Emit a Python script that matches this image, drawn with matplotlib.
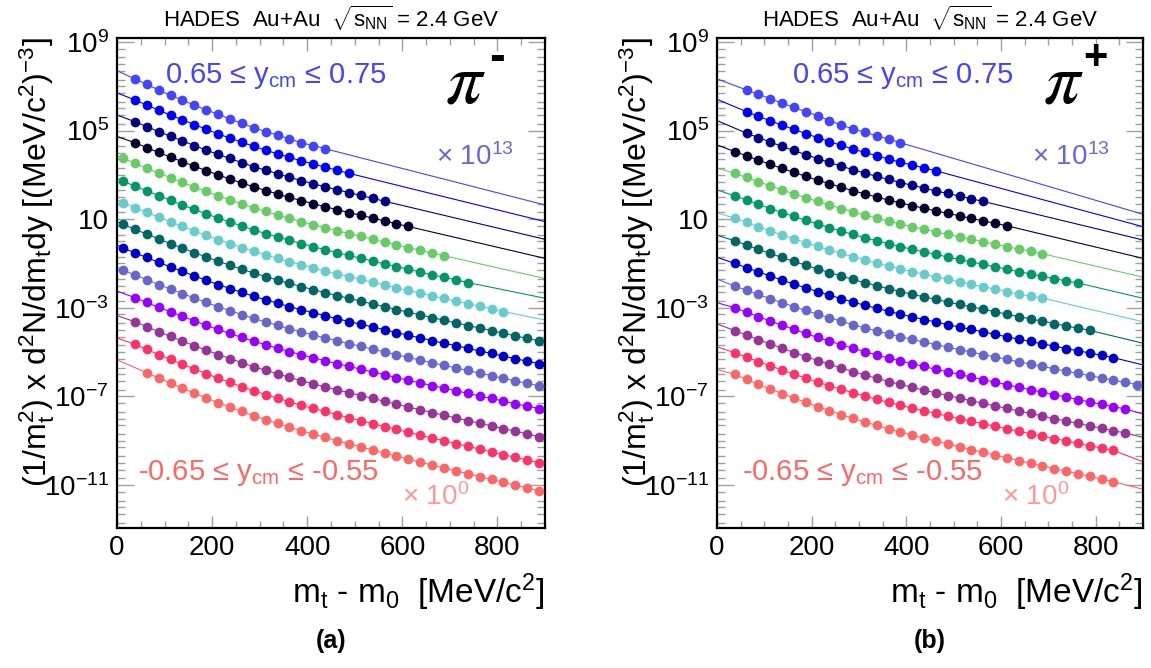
import numpy as np
import matplotlib
matplotlib.use('Agg')
import matplotlib.pyplot as plt
from matplotlib.ticker import FixedLocator, FixedFormatter, NullFormatter

plt.rcParams['font.family'] = ['Liberation Sans', 'DejaVu Sans']
plt.rcParams['mathtext.fontset'] = 'custom'
plt.rcParams['mathtext.rm'] = 'Liberation Sans'
plt.rcParams['mathtext.it'] = 'Liberation Sans:italic'
plt.rcParams['mathtext.bf'] = 'Liberation Sans:bold'

W, H = 1151, 668

# rapidity bins from -0.6 (x10^0) up to 0.7 (x10^13), bottom to top
colors = ['#ff6666', '#ff3366', '#993399', '#9900ff', '#6666cc', '#0000cc', '#006666',
          '#66cccc', '#009966', '#66cc66', '#000033', '#000088', '#0000ff', '#4444ff']

# bin centres in mt - m0 [MeV/c2]
mt_bins = np.arange(12.5, 900, 25)

# ---- pi-  : log10 of the scaled spectra ----
pim_first = [2, 1, 1, 1, 0, 0, 0, 0, 0, 0, 1, 1, 1, 1]
pim_left = [-5.35, -4.36, -3.35, -2.25, -1.17, -0.17, 0.89, 1.87, 2.84, 3.87, 4.73, 5.70, 6.70, 7.70]
pim_right = [-11.35, -10.07, -8.87, -7.62, -6.58, -5.58, -4.55, -3.55, -2.57, -1.68, -0.77, 0.09, 0.89, 1.64]
pim_00 = [-5.93, -6.17, -6.40, -6.63, -6.85, -7.07, -7.28, -7.48, -7.68, -7.87, -8.05, -8.22, -8.39, -8.55, -8.70,
          -8.85, -9.00, -9.14, -9.28, -9.42, -9.56, -9.69, -9.83, -9.96, -10.10, -10.23, -10.36, -10.49, -10.62,
          -10.75, -10.88, -11.01, -11.13, -11.26]
pim_01 = [-4.65, -4.88, -5.11, -5.33, -5.55, -5.76, -5.97, -6.18, -6.37, -6.56, -6.74, -6.92, -7.08, -7.24, -7.40,
          -7.54, -7.68, -7.82, -7.96, -8.09, -8.23, -8.36, -8.49, -8.62, -8.75, -8.88, -9.00, -9.13, -9.25, -9.38,
          -9.50, -9.63, -9.75, -9.87, -9.99]
pim_02 = [-3.63, -3.85, -4.08, -4.29, -4.50, -4.71, -4.91, -5.11, -5.29, -5.48, -5.66, -5.82, -5.98, -6.14, -6.29,
          -6.43, -6.57, -6.70, -6.83, -6.96, -7.09, -7.22, -7.35, -7.48, -7.60, -7.73, -7.85, -7.97, -8.09, -8.21,
          -8.33, -8.45, -8.57, -8.69, -8.81]
pim_03 = [-2.54, -2.76, -2.98, -3.18, -3.39, -3.59, -3.79, -3.98, -4.16, -4.34, -4.51, -4.67, -4.82, -4.98, -5.12,
          -5.25, -5.39, -5.52, -5.65, -5.77, -5.90, -6.02, -6.15, -6.27, -6.39, -6.51, -6.63, -6.74, -6.86, -6.98,
          -7.09, -7.21, -7.33, -7.44, -7.55]
pim_04 = [-1.29, -1.52, -1.73, -1.95, -2.15, -2.36, -2.56, -2.76, -2.95, -3.13, -3.31, -3.48, -3.64, -3.79, -3.95,
          -4.09, -4.22, -4.36, -4.49, -4.62, -4.74, -4.87, -4.99, -5.12, -5.24, -5.36, -5.48, -5.60, -5.71, -5.83,
          -5.95, -6.06, -6.18, -6.30, -6.41, -6.52]
pim_05 = [-0.29, -0.52, -0.73, -0.95, -1.15, -1.36, -1.56, -1.76, -1.95, -2.13, -2.31, -2.48, -2.64, -2.79, -2.95,
          -3.09, -3.22, -3.36, -3.49, -3.62, -3.74, -3.87, -3.99, -4.12, -4.24, -4.36, -4.48, -4.60, -4.71, -4.83,
          -4.95, -5.06, -5.18, -5.30, -5.41, -5.52]
pim_06 = [0.77, 0.54, 0.33, 0.11, -0.10, -0.31, -0.51, -0.71, -0.90, -1.08, -1.26, -1.43, -1.59, -1.75, -1.90,
          -2.04, -2.18, -2.32, -2.45, -2.57, -2.70, -2.83, -2.95, -3.08, -3.20, -3.32, -3.44, -3.56, -3.68, -3.80,
          -3.91, -4.03, -4.15, -4.27, -4.38, -4.49]
pim_07 = [1.75, 1.52, 1.31, 1.09, 0.88, 0.67, 0.47, 0.27, 0.08, -0.10, -0.28, -0.45, -0.61, -0.77, -0.92, -1.06,
          -1.20, -1.34, -1.47, -1.59, -1.72, -1.85, -1.97, -2.10, -2.22, -2.34, -2.46, -2.58, -2.70, -2.82, -2.93,
          -3.05, -3.17]
pim_08 = [2.72, 2.49, 2.28, 2.06, 1.85, 1.64, 1.44, 1.24, 1.05, 0.87, 0.69, 0.51, 0.35, 0.20, 0.04, -0.10, -0.24,
          -0.38, -0.51, -0.64, -0.76, -0.89, -1.02, -1.14, -1.26, -1.38, -1.51, -1.62, -1.74, -1.86]
pim_09 = [3.75, 3.52, 3.30, 3.08, 2.87, 2.66, 2.45, 2.25, 2.06, 1.87, 1.69, 1.51, 1.35, 1.19, 1.04, 0.89, 0.75,
          0.61, 0.48, 0.35, 0.22, 0.09, -0.04, -0.16, -0.28, -0.41, -0.53, -0.65]
pim_10 = [4.45, 4.23, 4.01, 3.80, 3.59, 3.39, 3.19, 3.00, 2.81, 2.63, 2.46, 2.29, 2.14, 1.98, 1.84, 1.70, 1.56,
          1.43, 1.30, 1.17, 1.05, 0.92, 0.79, 0.67]
pim_11 = [5.40, 5.18, 4.95, 4.74, 4.53, 4.32, 4.12, 3.92, 3.74, 3.55, 3.37, 3.21, 3.05, 2.89, 2.74, 2.60, 2.46,
          2.33, 2.20, 2.07, 1.94, 1.81]
pim_12 = [6.38, 6.15, 5.92, 5.70, 5.48, 5.27, 5.06, 4.85, 4.66, 4.47, 4.29, 4.11, 3.95, 3.79, 3.63, 3.49, 3.35,
          3.21, 3.07]
pim_13 = [7.33, 7.09, 6.83, 6.59, 6.38, 6.14, 5.93, 5.74, 5.52, 5.33, 5.13, 4.95, 4.80, 4.62, 4.45, 4.32, 4.18]

# ---- pi+ ----
pip_first = [1, 1, 1, 1, 1, 1, 1, 1, 1, 1, 1, 2, 2, 2]
pip_left = [-5.78, -4.76, -3.73, -2.77, -1.71, -0.72, 0.28, 1.29, 2.32, 3.30, 4.35, 5.45, 6.41, 7.33]
pip_right = [-11.19, -9.95, -8.85, -7.79, -6.55, -5.58, -4.60, -3.63, -2.57, -1.62, -0.77, 0.06, 0.66, 1.22]
pip_00 = [-6.01, -6.23, -6.45, -6.66, -6.87, -7.07, -7.27, -7.46, -7.64, -7.82, -7.99, -8.16, -8.31, -8.47, -8.61,
          -8.75, -8.89, -9.02, -9.14, -9.27, -9.40, -9.53, -9.65, -9.77, -9.90, -10.02, -10.14, -10.26, -10.37,
          -10.49, -10.61, -10.73, -10.85]
pip_01 = [-5.03, -5.23, -5.43, -5.62, -5.81, -5.99, -6.18, -6.35, -6.52, -6.68, -6.84, -6.99, -7.13, -7.27, -7.40,
          -7.53, -7.65, -7.77, -7.89, -8.01, -8.12, -8.24, -8.35, -8.46, -8.57, -8.69, -8.79, -8.90, -9.01, -9.12,
          -9.23, -9.33, -9.44]
pip_02 = [-4.03, -4.23, -4.44, -4.63, -4.83, -5.02, -5.20, -5.38, -5.55, -5.72, -5.88, -6.04, -6.18, -6.33, -6.46,
          -6.59, -6.72, -6.84, -6.96, -7.08, -7.20, -7.32, -7.43, -7.54, -7.66, -7.77, -7.88, -8.00, -8.11, -8.22,
          -8.33, -8.44, -8.55, -8.65]
pip_03 = [-3.00, -3.20, -3.40, -3.60, -3.79, -3.97, -4.16, -4.34, -4.50, -4.67, -4.83, -4.98, -5.13, -5.27, -5.40,
          -5.53, -5.65, -5.78, -5.89, -6.01, -6.13, -6.25, -6.36, -6.47, -6.59, -6.70, -6.81, -6.92, -7.03, -7.14,
          -7.25, -7.36, -7.46, -7.57]
pip_04 = [-2.02, -2.21, -2.40, -2.59, -2.77, -2.95, -3.12, -3.29, -3.45, -3.61, -3.76, -3.91, -4.04, -4.18, -4.31,
          -4.43, -4.55, -4.66, -4.78, -4.89, -5.00, -5.11, -5.22, -5.33, -5.44, -5.54, -5.65, -5.75, -5.86, -5.96,
          -6.06, -6.17, -6.27, -6.37, -6.47]
pip_05 = [-1.00, -1.19, -1.38, -1.57, -1.75, -1.93, -2.10, -2.27, -2.43, -2.59, -2.74, -2.89, -3.02, -3.16, -3.29,
          -3.41, -3.53, -3.64, -3.76, -3.87, -3.98, -4.09, -4.20, -4.31, -4.42, -4.52, -4.63, -4.73, -4.84, -4.94,
          -5.04, -5.15, -5.25]
pip_06 = [0.02, -0.17, -0.36, -0.55, -0.73, -0.91, -1.08, -1.25, -1.41, -1.57, -1.72, -1.87, -2.00, -2.14, -2.27,
          -2.39, -2.51, -2.62, -2.74, -2.85, -2.96, -3.07, -3.18, -3.29, -3.40, -3.50, -3.61, -3.71, -3.82, -3.92,
          -4.02]
pip_07 = [1.04, 0.85, 0.66, 0.47, 0.29, 0.11, -0.06, -0.23, -0.39, -0.55, -0.70, -0.85, -0.98, -1.12, -1.25,
          -1.37, -1.49, -1.60, -1.72, -1.83, -1.94, -2.05, -2.16, -2.27, -2.38, -2.48, -2.56]
pip_08 = [2.05, 1.86, 1.67, 1.48, 1.30, 1.12, 0.95, 0.78, 0.62, 0.46, 0.31, 0.16, 0.03, -0.11, -0.24, -0.36,
          -0.48, -0.59, -0.71, -0.82, -0.93, -1.04, -1.15, -1.26, -1.37, -1.47, -1.58, -1.68, -1.79, -1.88]
pip_09 = [3.07, 2.88, 2.69, 2.50, 2.32, 2.14, 1.97, 1.80, 1.64, 1.48, 1.33, 1.18, 1.05, 0.91, 0.78, 0.66, 0.54,
          0.43, 0.31, 0.20, 0.09, -0.02, -0.13, -0.24, -0.35, -0.45, -0.56]
pip_10 = [4.05, 3.86, 3.66, 3.47, 3.29, 3.11, 2.93, 2.76, 2.60, 2.44, 2.28, 2.14, 2.00, 1.86, 1.73, 1.61, 1.49,
          1.37, 1.26, 1.15, 1.03, 0.92, 0.81, 0.70]
pip_11 = [4.88, 4.68, 4.48, 4.28, 4.10, 3.91, 3.73, 3.56, 3.39, 3.23, 3.08, 2.93, 2.79, 2.65, 2.53, 2.40, 2.27,
          2.16, 2.04, 1.92, 1.80]
pip_12 = [5.85, 5.64, 5.44, 5.24, 5.05, 4.86, 4.68, 4.50, 4.33, 4.16, 4.01, 3.86, 3.71, 3.57, 3.44, 3.31, 3.18]
pip_13 = [6.83, 6.64, 6.44, 6.23, 6.05, 5.85, 5.67, 5.45, 5.25, 5.07, 4.92, 4.76, 4.61, 4.45]

pim_series = [pim_00, pim_01, pim_02, pim_03, pim_04, pim_05, pim_06,
              pim_07, pim_08, pim_09, pim_10, pim_11, pim_12, pim_13]
pip_series = [pip_00, pip_01, pip_02, pip_03, pip_04, pip_05, pip_06,
              pip_07, pip_08, pip_09, pip_10, pip_11, pip_12, pip_13]

y_major = [1e-11, 1e-7, 1e-3, 1e1, 1e5, 1e9]
y_major_labels = [r'$10^{-11}$', r'$10^{-7}$', r'$10^{-3}$', '10', r'$10^{5}$', r'$10^{9}$']
x_major = [0, 200, 400, 600, 800]


def fpx(x, y):
    return x / W, 1 - y / H


fig = plt.figure(figsize=(W / 100, H / 100), dpi=100)

panels = [
    dict(left=117, right=545, series=pim_series, first=pim_first, lo=pim_left, hi=pim_right,
         charge='-', csize=34, tag='(a)', top_lbl=165, bot_lbl=138, x10=436, x100=402),
    dict(left=717, right=1143, series=pip_series, first=pip_first, lo=pip_left, hi=pip_right,
         charge='+', csize=30, tag='(b)', top_lbl=792, bot_lbl=742, x10=1032, x100=1002),
]
top, bottom = 38, 528

for p in panels:
    l, b = fpx(p['left'], bottom)
    r, t = fpx(p['right'], top)
    ax = fig.add_axes([l, b, r - l, t - b])
    ax.set_yscale('log')
    ax.set_xlim(0, 900)
    ax.set_ylim(1.15e-13, 1.5e9)

    for k, vals in enumerate(p['series']):
        i0 = p['first'][k]
        x = mt_bins[i0:i0 + len(vals)]
        y = 10.0 ** np.array(vals)
        xl = np.r_[0, x, 900]
        yl = 10.0 ** np.r_[p['lo'][k], vals, p['hi'][k]]
        ax.plot(xl, yl, color=colors[k], lw=0.8, zorder=2)
        ax.plot(x, y, 'o', color=colors[k], ms=7, mew=0, zorder=3)

    # ROOT-like frame and ticks
    for s in ax.spines.values():
        s.set_linewidth(1.6)
    ax.yaxis.set_major_locator(FixedLocator(y_major))
    ax.yaxis.set_major_formatter(FixedFormatter(y_major_labels))
    minors = [m * 10.0 ** e for e in range(-13, 10) for m in (1, 2, 5)]
    ax.yaxis.set_minor_locator(FixedLocator(minors))
    ax.yaxis.set_minor_formatter(NullFormatter())
    ax.xaxis.set_major_locator(FixedLocator(x_major))
    ax.xaxis.set_minor_locator(FixedLocator(np.arange(0, 901, 50)))
    ax.tick_params(which='both', direction='in', top=True, right=True, color='#a0a0a0',
                   width=1.0, labelsize=20, labelcolor='black')
    ax.tick_params(axis='y', which='major', length=12, pad=6)
    ax.tick_params(axis='y', which='minor', length=6)
    ax.tick_params(axis='x', which='major', length=9, pad=5)
    ax.tick_params(axis='x', which='minor', length=5)

    cx = (p['left'] + p['right']) / 2
    fig.text(*fpx(cx, 18), r'HADES  Au+Au  $\sqrt{\mathrm{s}_{\mathrm{NN}}}$ = 2.4 GeV',
             ha='center', va='center', fontsize=16)
    fig.text(*fpx(p['top_lbl'], 76), '0.65 \u2264 y$_{\\mathrm{cm}}$ \u2264 0.75',
             ha='left', va='center', fontsize=21, color='#4444ff')
    fig.text(*fpx(p['x10'], 157), '\u00d7 10$^{13}$', ha='left', va='center',
             fontsize=20, color='#6666dd')
    fig.text(*fpx(p['bot_lbl'], 473), '-0.65 \u2264 y$_{\\mathrm{cm}}$ \u2264 -0.55',
             ha='left', va='center', fontsize=21, color='#ff6666')
    fig.text(*fpx(p['x100'], 497), '\u00d7 10$^{0}$', ha='left', va='center',
             fontsize=20, color='#ff9999')
    fig.text(*fpx(p['right'] - 100, 84), r'$\pi$', ha='left', va='center', fontsize=52,
             math_fontfamily='stix')
    fig.text(*fpx(p['right'] - 48, 58), p['charge'], ha='center', va='center',
             fontsize=p['csize'], family='Liberation Sans', fontweight='bold')

    fig.text(*fpx(p['right'], 592), 'm$_{\\mathrm{t}}$ - m$_{0}$  [MeV/c$^{2}$]',
             ha='right', va='center', fontsize=24)
    fig.text(*fpx(p['left'] - 80, 262),
             '(1/m$_{\\mathrm{t}}^{2}$) x d$^{2}$N/dm$_{\\mathrm{t}}$dy [(MeV/c$^{2}$)$^{-3}$]',
             ha='center', va='center', rotation=90, fontsize=23)
    fig.text(*fpx(cx, 641), p['tag'], ha='center', va='center', fontsize=18, fontweight='bold')

fig.savefig('out.png', dpi=100)
